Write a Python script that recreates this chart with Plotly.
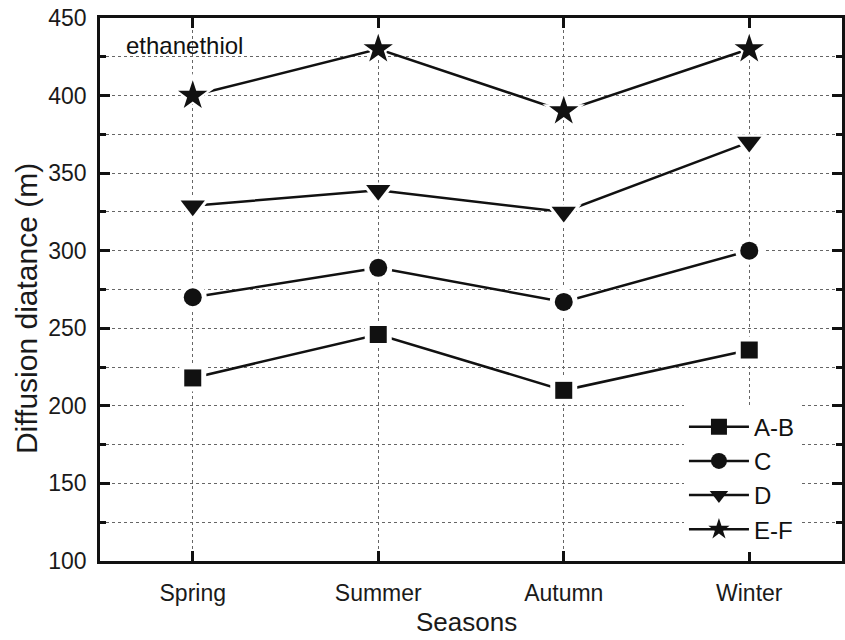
import plotly.graph_objects as go

seasons = ["Spring", "Summer", "Autumn", "Winter"]
ab = [218, 246, 210, 236]
c = [270, 289, 267, 300]
d = [329, 339, 325, 370]
ef = [400, 430, 390, 430]

series = [
    ("A-B", ab, "square", 17, 27),
    ("C", c, "circle", 18, 28),
    ("D", d, "triangle-down", 21, 31),
    ("E-F", ef, "star", 22, 32),
]

FONT = "Liberation Sans, Arial, sans-serif"
INK = "#111111"
fig = go.Figure()
for name, vals, sym, sz, wsz in series:
    fig.add_trace(go.Scatter(
        x=seasons, y=vals, name=name, mode="lines+markers",
        line=dict(color=INK, width=2.5),
        marker=dict(symbol=sym, size=sz, color=INK, line=dict(width=0)),
    ))
    fig.add_trace(go.Scatter(
        x=seasons, y=vals, mode="markers", showlegend=False, hoverinfo="skip",
        marker=dict(symbol=sym, size=wsz, color="white", line=dict(width=0)),
    ))
    fig.add_trace(go.Scatter(
        x=seasons, y=vals, mode="markers", showlegend=False,
        marker=dict(symbol=sym, size=sz, color=INK, line=dict(width=0)),
    ))

fig.add_annotation(text="ethanethiol", x=0.033, y=0.978, xref="paper", yref="paper",
                   xanchor="left", yanchor="top", showarrow=False,
                   font=dict(family=FONT, size=24, color=INK))

fig.add_annotation(text="Diffusion diatance (m)", x=-0.099, y=0.465, xref="paper", yref="paper",
                   xanchor="center", yanchor="middle", showarrow=False, textangle=-90,
                   font=dict(family=FONT, size=30, color="#1a1a1a"))

fig.add_annotation(text="Seasons", x=0.494, y=-0.113, xref="paper", yref="paper",
                   xanchor="center", yanchor="middle", showarrow=False,
                   font=dict(family=FONT, size=26, color="#1a1a1a"))

axis_common = dict(
    showline=True, linecolor=INK, linewidth=2.5, mirror="ticks",
    ticks="inside", ticklen=10, tickwidth=2.5, tickcolor=INK,
    tickfont=dict(family=FONT, size=23, color="#1a1a1a"),
    showgrid=True, gridcolor="#666666", gridwidth=1, griddash="dot",
    zeroline=False, automargin=False,
)

fig.update_xaxes(**axis_common, range=[-0.5, 3.5], ticklabelstandoff=10)
fig.update_yaxes(**axis_common, range=[100, 450], dtick=50, ticklabelstandoff=6,
                 minor=dict(dtick=25, ticks="inside", ticklen=6, tickwidth=2.5, tickcolor=INK,
                            showgrid=True, gridcolor="#666666", gridwidth=1, griddash="dot"))

fig.update_layout(
    width=845, height=640,
    margin=dict(l=100, r=3, t=18, b=79),
    plot_bgcolor="white", paper_bgcolor="white",
    showlegend=True,
    legend=dict(x=0.787, y=0.288, xanchor="left", yanchor="top",
                bgcolor="white", borderwidth=0,
                font=dict(family=FONT, size=24, color=INK),
                itemwidth=60, tracegroupgap=0),
)

fig.write_html("out.html")
